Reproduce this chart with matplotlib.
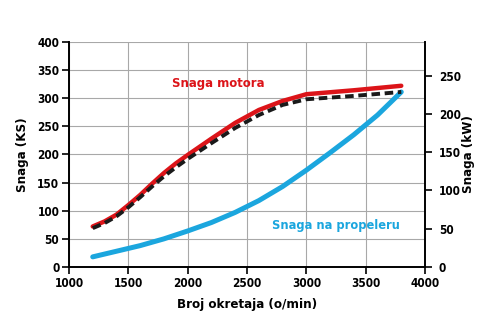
import matplotlib.pyplot as plt
import numpy as np

plt.rcParams['font.family'] = ['DejaVu Sans']
plt.rcParams['font.stretch'] = 'condensed'
plt.rcParams['font.weight'] = 'bold'
plt.rcParams['axes.labelweight'] = 'bold'

# engine power (KS) vs. rpm
rpm_motor = [1200, 1300, 1400, 1500, 1600, 1700, 1800, 1900, 2000, 2200, 2400, 2600, 2800, 3000, 3400, 3800]
snaga_motora = [72, 81, 93, 110, 128, 148, 167, 184, 199, 228, 256, 279, 295, 307, 314, 322]

# dashed curve just under the engine curve
rpm_dash = [1200, 1300, 1400, 1500, 1600, 1700, 1800, 1900, 2000, 2200, 2400, 2600, 2800, 3000, 3400, 3800]
snaga_dash = [69, 78, 90, 106, 124, 143, 161, 177, 192, 220, 247, 270, 288, 298, 304, 311]

# propeller power (KS)
rpm_prop = [1200, 1400, 1600, 1800, 2000, 2200, 2400, 2600, 2800, 3000, 3200, 3400, 3600, 3800]
snaga_prop = [18, 28, 38, 50, 64, 79, 97, 118, 143, 172, 203, 235, 270, 311]

KS_TO_KW = 0.7355

red = '#dc1419'
blue = '#1ba6de'

fig = plt.figure(figsize=(5, 3.35), dpi=100)
ax = fig.add_axes([0.138, 0.203, 0.712, 0.672])

ax.plot(rpm_motor, snaga_motora, color=red, lw=3.2, solid_capstyle='round', solid_joinstyle='round', zorder=3)
ax.plot(rpm_dash, snaga_dash, color='#1a1a1a', lw=2.8, ls=(0, (2.2, 1.2)), zorder=4)
ax.plot(rpm_prop, snaga_prop, color=blue, lw=3.6, solid_capstyle='round', solid_joinstyle='round', zorder=3)

ax.set_xlim(1000, 4000)
ax.set_ylim(0, 400)
ax.set_xticks(np.arange(1000, 4001, 500))
ax.set_yticks(np.arange(0, 401, 50))
ax.grid(True, color='#a8a8a8', lw=0.8)
ax.set_axisbelow(True)

for s in ['top', 'right']:
    ax.spines[s].set_visible(False)
for s in ['left', 'bottom']:
    ax.spines[s].set_linewidth(1.4)
ax.tick_params(axis='both', direction='out', length=5, width=1.2, labelsize=8.5, pad=2)

ax.set_xlabel('Broj okretaja (o/min)', fontsize=9.5, labelpad=6)
ax.set_ylabel('Snaga (KS)', fontsize=9.5, labelpad=6)

ax2 = ax.twinx()
ax2.set_ylim(0, 400 * KS_TO_KW)
ax2.set_yticks(np.arange(0, 251, 50))
for s in ['top', 'left', 'bottom']:
    ax2.spines[s].set_visible(False)
ax2.spines['right'].set_linewidth(1.4)
ax2.tick_params(axis='y', direction='out', length=5, width=1.2, labelsize=8.5, pad=5)
ax2.set_ylabel('Snaga (kW)', fontsize=9.5, labelpad=1)

ax.text(1870, 326, 'Snaga motora', color=red, fontsize=9.4, ha='left', va='center')
ax.text(2710, 73, 'Snaga na propeleru', color=blue, fontsize=9.2, ha='left', va='center')

fig.savefig('out.png', dpi=100)
